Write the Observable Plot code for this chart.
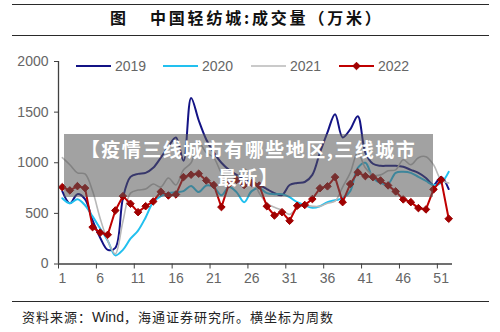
<!DOCTYPE html>
<html><head><meta charset="utf-8">
<script src="https://cdn.jsdelivr.net/npm/d3@7"></script>
<script src="https://cdn.jsdelivr.net/npm/@observablehq/plot@0.6"></script>
<style>
html,body{margin:0;padding:0;background:#fff;}
#wrap{position:relative;width:500px;height:332px;overflow:hidden;font-family:"Liberation Sans",Arial,sans-serif;background:#fff;}
.hr{position:absolute;left:12px;width:477px;height:0;border-top:1.6px solid #2a2a2a;}
.t{position:absolute;top:7px;font-family:"Noto Sans CJK SC",sans-serif;font-weight:700;font-size:16px;line-height:20px;color:#111;letter-spacing:2.8px;white-space:nowrap;}
#chart{position:absolute;left:0;top:40px;}
#legend{position:absolute;left:0;top:0;}
#banner{position:absolute;left:64px;top:134px;width:369px;height:63px;background:rgba(85,85,85,0.55);}
.bt{position:absolute;left:64px;width:369px;color:#fff;font-family:"Noto Sans CJK SC",sans-serif;font-weight:700;font-size:19px;line-height:20px;height:20px;text-align:center;white-space:nowrap;letter-spacing:1.5px;}
#caption{position:absolute;left:22px;top:308px;font-family:"Noto Sans CJK SC",sans-serif;font-size:13px;line-height:17px;color:#222;letter-spacing:1px;white-space:nowrap;}
#caption span{font-family:"Liberation Sans",Arial,sans-serif;letter-spacing:0;font-size:14px;}
</style></head><body>
<div id="wrap">
  <div class="hr" style="top:4px"></div>
  <div class="t" style="left:110px">图</div>
  <div class="t" style="left:150px">中国轻纺城:成交量（万米）</div>
  <div class="hr" style="top:35px"></div>
  <div id="chart"></div>
  <div id="banner"></div>
  <div class="bt" style="top:139px">【疫情三线城市有哪些地区,三线城市</div>
  <div class="bt" style="top:167px">最新】</div>
  <div class="hr" style="top:301px"></div>
  <div id="caption">资料来源：<span>Wind</span>，海通证券研究所。横坐标为周数</div>
</div>
<script>
const weeks = [1,2,3,4,5,6,7,8,9,10,11,12,13,14,15,16,17,18,19,20,21,22,23,24,25,26,
  27,28,29,30,31,32,33,34,35,36,37,38,39,40,41,42,43,44,45,46,47,48,49,50,51,52];
const xTickLabels = [1,6,11,16,21,26,31,36,41,46,51];
const yTicks = [0,500,1000,1500,2000];
const years = ["2019","2020","2021","2022"];

const v2019 = [720,600,690,640,430,260,140,160,650,860,890,900,950,1050,1160,1250,1020,1640,1420,1230,
  1100,1000,930,880,840,810,780,740,700,680,780,800,810,880,1100,1300,1480,1250,1330,1460,
  1100,990,970,970,970,960,930,900,850,780,860,740];
const v2020 = [650,600,640,580,470,350,230,85,140,250,330,460,610,670,700,710,720,770,710,775,
  760,680,760,710,611,720,750,700,690,690,660,610,580,555,570,610,630,650,720,950,
  1000,850,800,790,900,910,900,860,820,780,800,910];
const v2021 = [1050,980,900,890,720,450,230,100,420,700,730,740,790,760,850,780,930,1000,1200,1100,
  1050,900,830,850,940,860,700,600,560,530,490,550,580,570,570,600,620,760,900,1100,
  950,880,880,920,930,1030,980,1050,1060,980,830,800];
const v2022 = [759,727,769,750,364,310,289,529,670,595,512,571,618,714,677,687,858,882,892,825,
  780,562,790,830,780,800,775,570,479,512,427,575,583,641,748,767,858,611,790,905,
  868,858,825,776,717,638,611,552,539,737,832,447];

const colors = ["#131385","#22c0ef","#b8b8b8","#c00000"];
const markerColor = "#a00000";
const seriesValues = [v2019, v2020, v2021, v2022];
const toRows = vals => vals.map((v,i) => ({week: weeks[i], value: v}));

const lineMarks = seriesValues.slice(0,3).map((vals,k) =>
  Plot.lineY(toRows(vals), {x:"week", y:"value", stroke: colors[k], strokeWidth: k===2?1.6:2, curve:"catmull-rom"}));

const chart = Plot.plot({
  width: 500, height: 255,
  marginTop: 21, marginBottom: 31.5, marginLeft: 58, marginRight: 48,
  x: {domain: [0.5, 52.5]},
  y: {domain: [0, 2000]},
  style: {fontFamily: "'Liberation Sans', Arial, sans-serif", fontSize: "14px", color: "#595959", background: "transparent", overflow: "visible"},
  marks: [
    Plot.axisY({ticks: yTicks, tickSize: 4, tickPadding: 6, stroke: "#404040", fill: "#666", tickFormat: d => String(d), label: null}),
    Plot.axisX({ticks: xTickLabels, tickSize: 0, tickPadding: 9, fill: "#666", tickFormat: d => String(d), label: null}),
    Plot.axisX({ticks: xTickLabels.map(d => d - 0.5), tickSize: 5, stroke: "#404040", tickFormat: () => "", label: null}),
    ...lineMarks,
    Plot.lineY(toRows(v2022), {x:"week", y:"value", stroke: colors[3], strokeWidth: 2}),
    Plot.dot(toRows(v2022), {x:"week", y:"value", symbol:"diamond2", r:3.4, fill: markerColor, stroke: markerColor, strokeWidth: 1}),
    Plot.ruleX([0.5], {stroke:"#404040", strokeWidth:1.3}),
    Plot.ruleY([0], {stroke:"#404040", strokeWidth:1.3})
  ]
});
document.getElementById("chart").appendChild(chart);

// legend
const legendX = [76, 163, 251, 339];
const lg = d3.select("#wrap").append("svg").attr("id","legend").attr("width",500).attr("height",90);
years.forEach((yr,k) => {
  const g = lg.append("g").attr("transform", `translate(${legendX[k]},66)`);
  g.append("line").attr("x1",0).attr("x2",35).attr("y1",0).attr("y2",0)
    .attr("stroke",colors[k]).attr("stroke-width", k===2?1.6:2);
  if (k===3) {
    g.append("path").attr("d", d3.symbol(d3.symbolDiamond2, 3.4*3.4*Math.PI)())
      .attr("transform","translate(17.5,0)").attr("fill",markerColor).attr("stroke",markerColor);
  }
  g.append("text").attr("x",39).attr("y",0).attr("dy","0.36em")
    .attr("font-family","'Liberation Sans', Arial, sans-serif").attr("font-size",14)
    .attr("fill","#666").text(yr);
});
</script>
</body></html>
